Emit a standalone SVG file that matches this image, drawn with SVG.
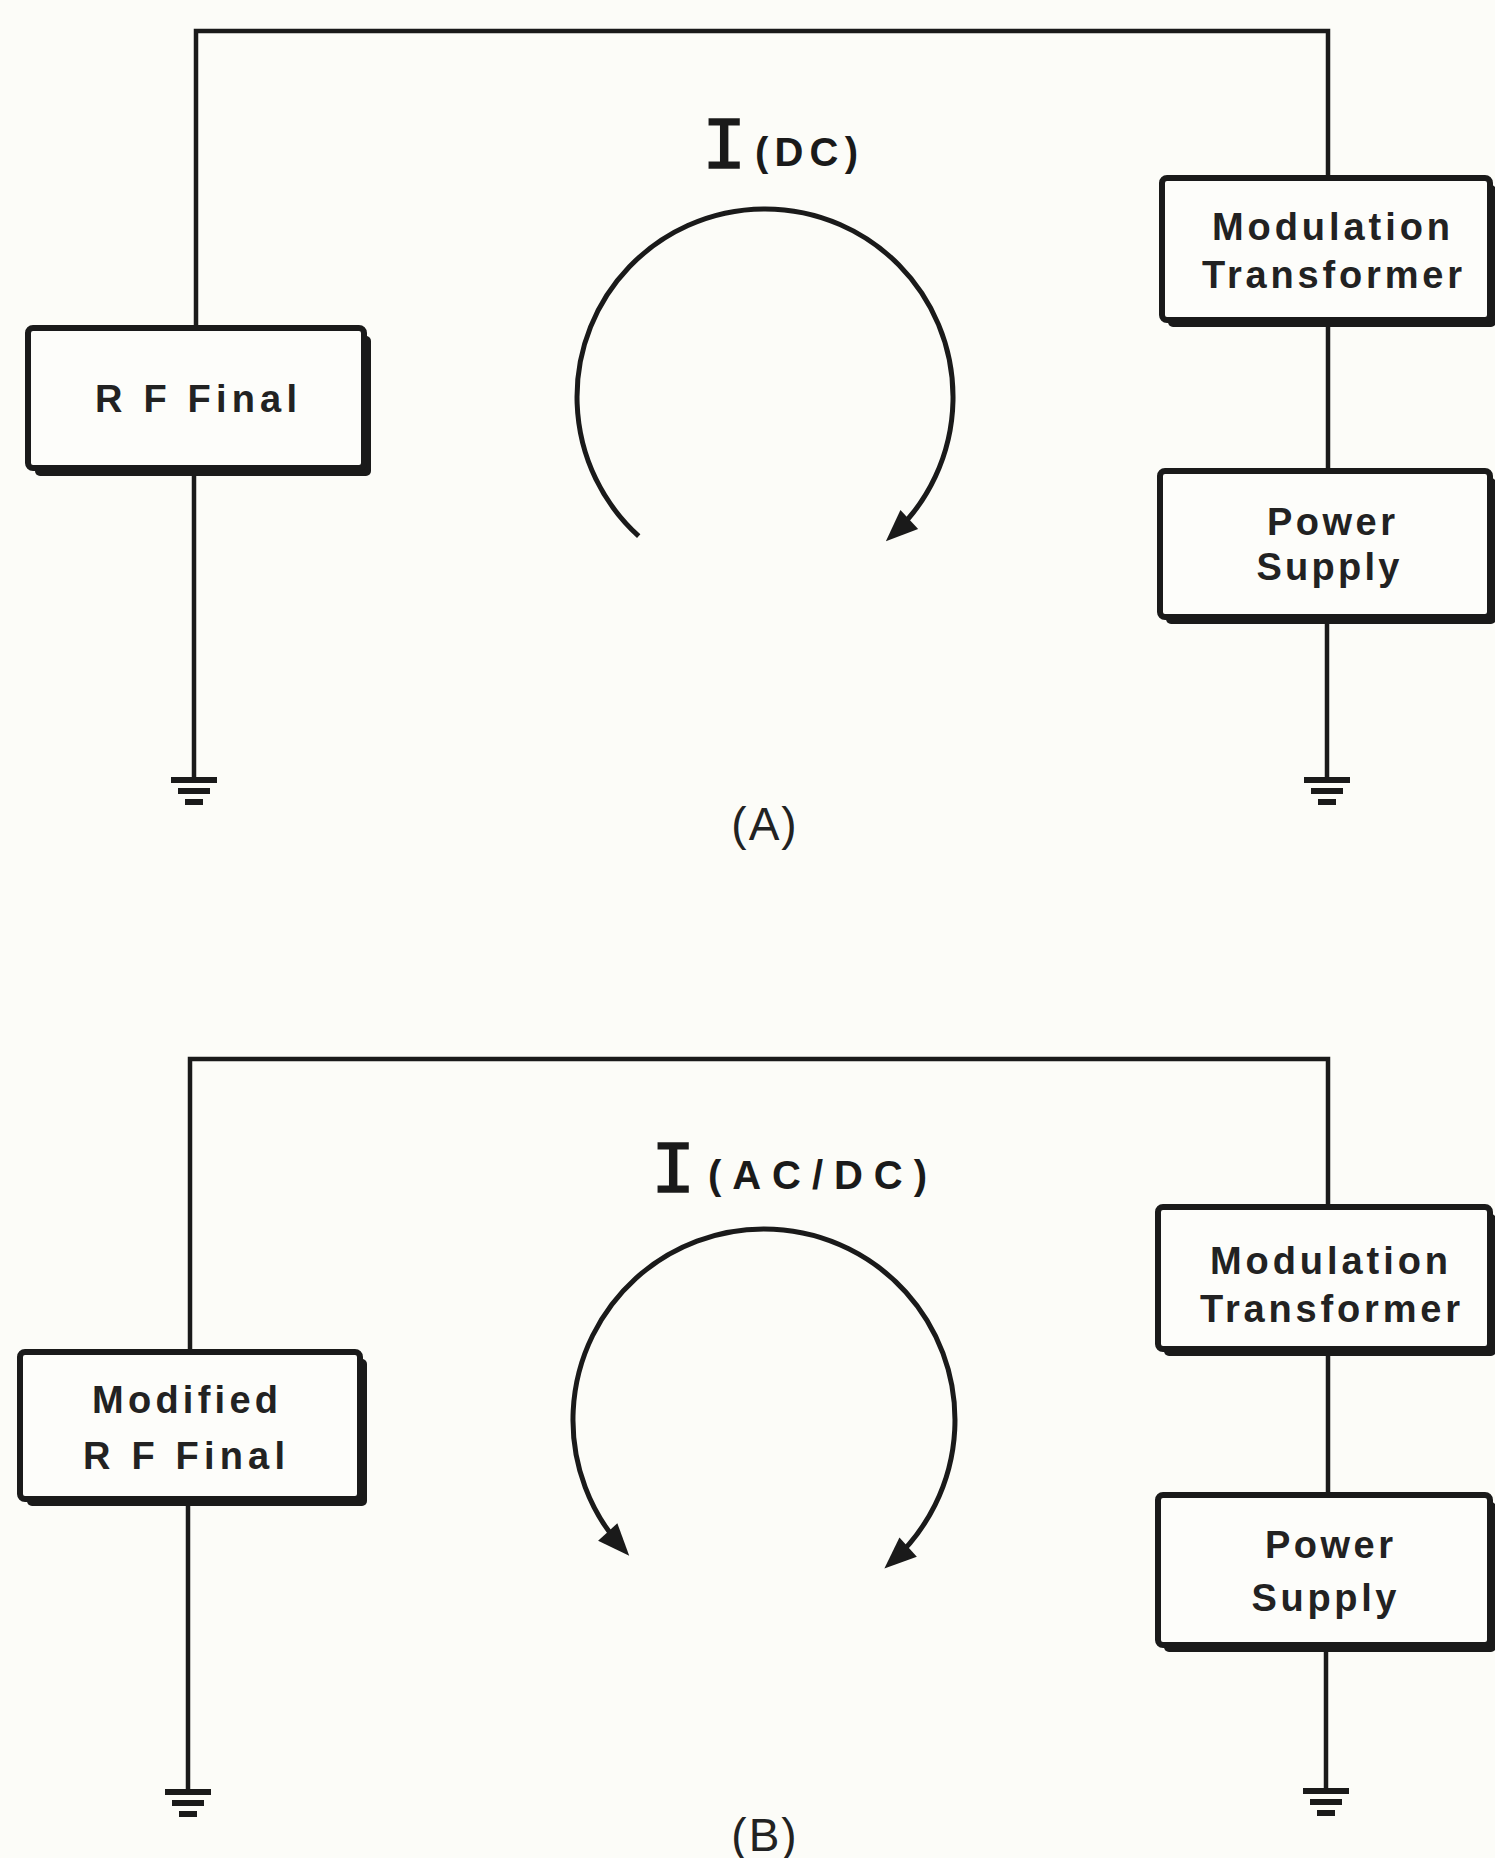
<svg xmlns="http://www.w3.org/2000/svg" xmlns:xlink="http://www.w3.org/1999/xlink" width="1495" height="1858" viewBox="0 0 1495 1858">
<style>
.bg{fill:#fcfcf8}
.wire{stroke:#1a1a1a;stroke-width:4.5;fill:none}
.arc{stroke:#1a1a1a;stroke-width:5;fill:none}
.box{fill:#fdfdfa;stroke:#1a1a1a;stroke-width:6}
.shadow{fill:#1a1a1a}
.lbl{font-family:"Liberation Sans",Arial,sans-serif;font-weight:700;font-size:38px;fill:#222;text-anchor:middle}
.bigI{font-family:"Liberation Mono","Courier New",monospace;font-weight:400;font-size:74px;fill:#1a1a1a;stroke:#1a1a1a;stroke-width:1.5}
.cur{font-family:"Liberation Sans",Arial,sans-serif;font-weight:700;font-size:40px;fill:#1a1a1a}
.cap{font-family:"Liberation Sans",Arial,sans-serif;font-weight:400;font-size:46px;fill:#222;text-anchor:middle}
.gnd{stroke:#1a1a1a;stroke-width:6;fill:none}
</style>
<defs>
<marker id="ah" markerUnits="userSpaceOnUse" markerWidth="36" markerHeight="32" viewBox="-24 -16 36 32" refX="0" refY="0" orient="auto-start-reverse">
<path d="M10,0 L-22,-13 L-22,13 Z" fill="#1a1a1a"/>
</marker>
<g id="ground">
<line class="gnd" x1="-23" y1="0" x2="23" y2="0"/>
<line class="gnd" x1="-16" y1="11" x2="16" y2="11"/>
<line class="gnd" x1="-9" y1="22" x2="9" y2="22"/>
</g>
</defs>
<rect class="bg" x="0" y="0" width="1495" height="1858"/>

<g id="connectors">
<path class="wire" d="M196,330 V31 H1328 V180"/>
<path class="wire" d="M194,470 V780"/>
<path class="wire" d="M1328,320 V473"/>
<path class="wire" d="M1327,617 V780"/>
<path class="wire" d="M190,1354 V1059 H1328 V1209"/>
<path class="wire" d="M188,1499 V1792"/>
<path class="wire" d="M1328,1349 V1497"/>
<path class="wire" d="M1326,1645 V1791"/>
<path class="arc" d="M638.7,536.2 A188,188 0 1 1 893.2,534.5" marker-end="url(#ah)"/>
<path class="arc" d="M622.5,1548.3 A191,191 0 1 1 891.8,1561.9" marker-start="url(#ah)" marker-end="url(#ah)"/>
</g>

<!-- Panel A -->
<g id="rf-final-a">
<rect class="shadow" x="35" y="336" width="336" height="140" rx="5"/>
<rect class="box" x="28" y="328" width="336" height="140" rx="5"/>
<text class="lbl" x="196" y="412" font-size="40" textLength="202" lengthAdjust="spacing">R F Final</text>
</g>
<g id="mod-transformer-a">
<rect class="shadow" x="1168" y="185" width="328" height="142" rx="5"/>
<rect class="box" x="1162" y="178" width="328" height="142" rx="5"/>
<text class="lbl" x="1331" y="240" textLength="238" lengthAdjust="spacing">Modulation</text>
<text class="lbl" x="1332" y="288" textLength="260" lengthAdjust="spacing">Transformer</text>
</g>
<g id="power-supply-a">
<rect class="shadow" x="1166" y="478" width="330" height="146" rx="5"/>
<rect class="box" x="1160" y="471" width="330" height="146" rx="5"/>
<text class="lbl" x="1331" y="535" textLength="128" lengthAdjust="spacing">Power</text>
<text class="lbl" x="1328" y="580" textLength="143" lengthAdjust="spacing">Supply</text>
</g>
<g id="ground-a-left"><use xlink:href="#ground" href="#ground" x="194" y="780"/></g>
<g id="ground-a-right"><use xlink:href="#ground" href="#ground" x="1327" y="780"/></g>
<g id="current-a">
<text x="702" y="168"><tspan class="bigI">I</tspan></text>
<text class="cur" x="755" y="166" textLength="103" lengthAdjust="spacing">(DC)</text>
</g>
<text id="caption-a" class="cap" x="765" y="840" letter-spacing="2">(A)</text>

<!-- Panel B -->
<g id="modified-rf-final-b">
<rect class="shadow" x="27" y="1359" width="340" height="147" rx="5"/>
<rect class="box" x="20" y="1352" width="340" height="147" rx="5"/>
<text class="lbl" x="185" y="1413" textLength="186" lengthAdjust="spacing">Modified</text>
<text class="lbl" x="184" y="1469" textLength="202" lengthAdjust="spacing">R F Final</text>
</g>
<g id="mod-transformer-b">
<rect class="shadow" x="1164" y="1214" width="332" height="142" rx="5"/>
<rect class="box" x="1158" y="1207" width="332" height="142" rx="5"/>
<text class="lbl" x="1329" y="1274" textLength="238" lengthAdjust="spacing">Modulation</text>
<text class="lbl" x="1330" y="1322" textLength="260" lengthAdjust="spacing">Transformer</text>
</g>
<g id="power-supply-b">
<rect class="shadow" x="1164" y="1502" width="332" height="150" rx="5"/>
<rect class="box" x="1158" y="1495" width="332" height="150" rx="5"/>
<text class="lbl" x="1329" y="1558" textLength="128" lengthAdjust="spacing">Power</text>
<text class="lbl" x="1324" y="1611" textLength="145" lengthAdjust="spacing">Supply</text>
</g>
<g id="ground-b-left"><use xlink:href="#ground" href="#ground" x="188" y="1792"/></g>
<g id="ground-b-right"><use xlink:href="#ground" href="#ground" x="1326" y="1791"/></g>
<g id="current-b">
<text x="651" y="1192"><tspan class="bigI">I</tspan></text>
<text class="cur" x="708" y="1189" textLength="219" lengthAdjust="spacing">(AC/DC)</text>
</g>
<text id="caption-b" class="cap" x="765" y="1851" letter-spacing="2">(B)</text>
</svg>
